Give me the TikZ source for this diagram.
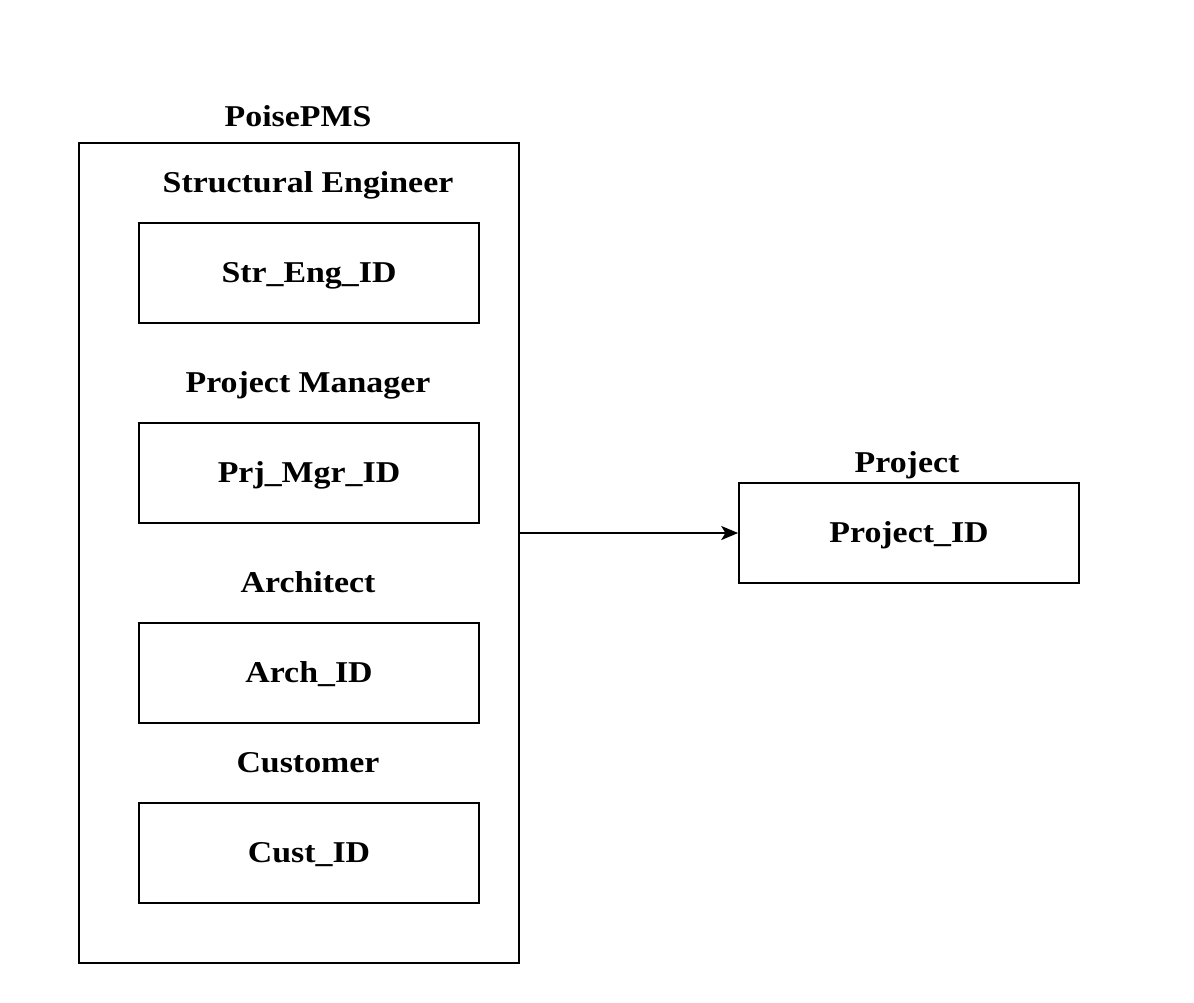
\documentclass[tikz,border=0pt]{standalone}
\usepackage{fontspec}
\setmainfont[FakeStretch=1.12]{Liberation Serif}
\usetikzlibrary{arrows.meta}
\begin{document}
\begin{tikzpicture}[x=0.025cm,y=-0.025cm,
  txt/.style={font=\fontsize{21.5}{24}\selectfont\bfseries,text height=14pt,text depth=0pt},
  box/.style={txt,draw=black,line width=1.3pt,minimum width=340*0.025cm,minimum height=100*0.025cm,inner sep=0pt},
  lbl/.style={txt,inner sep=0pt}]
\useasboundingbox (0,0) rectangle (1194,1002);
\node[draw=black,line width=1.3pt,minimum width=440*0.025cm,minimum height=820*0.025cm,inner sep=0pt] (outer) at (299,553) {};
\node[lbl] (tpms) at (298,117) {PoisePMS};
\node[lbl] (tse) at (308,183) {Structural Engineer};
\node[box] (se) at (309,273) {Str\_Eng\_ID};
\node[lbl] (tpm) at (308,383) {Project Manager};
\node[box] (pm) at (309,473) {Prj\_Mgr\_ID};
\node[lbl] (tar) at (308,583) {Architect};
\node[box] (ar) at (309,673) {Arch\_ID};
\node[lbl] (tcu) at (308,763) {Customer};
\node[box] (cu) at (309,853) {Cust\_ID};
\node[lbl] (tpr) at (907,463) {Project};
\node[box] (pr) at (909,533) {Project\_ID};
\draw[line width=1.3pt,-{Stealth[length=12pt,width=10pt,inset=3pt]}] (outer.east |- pr.west) -- (pr.west);
\end{tikzpicture}
\end{document}
